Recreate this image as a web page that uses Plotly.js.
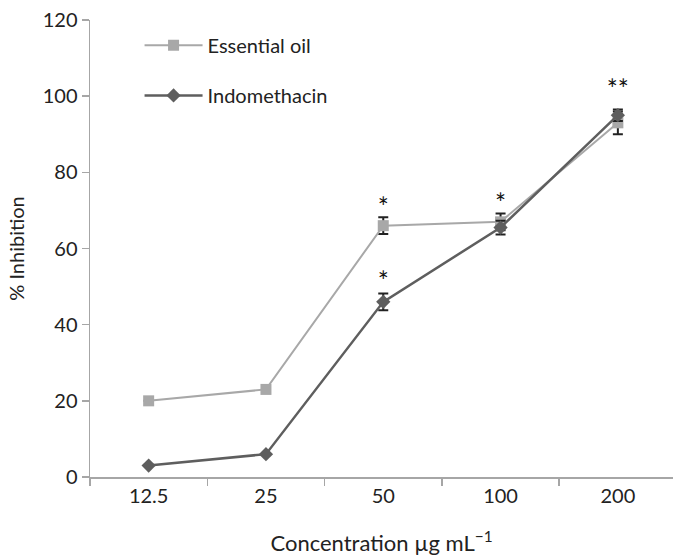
<!DOCTYPE html>
<html><head><meta charset="utf-8">
<script src="https://cdn.plot.ly/plotly-3.0.1.min.js"></script>
<style>html,body{margin:0;padding:0;background:#fff}#chart{width:673px;height:560px}</style>
</head><body><div id="chart"></div>
<script>
const categories = ["12.5", "25", "50", "100", "200"];
const oilValues = [20, 23, 66, 67, 93];
const oilErrors = [0, 0, 2.2, 2.2, 3];
const indoValues = [3, 6, 46, 65.5, 95];
const indoErrors = [0, 0, 2.2, 1.8, 1.5];
const starCats = ["50", "50", "100", "200"];
const starY = [70, 50.5, 71, 101];
const starText = ["*", "*", "*", "**"];

const font = "Lato, 'Open Sans', sans-serif";
const data = [
  {x: categories, y: oilValues, name: "Essential oil", type: "scatter", mode: "lines+markers",
   line: {color: "#a8a8a8", width: 2}, marker: {symbol: "square", size: 11, color: "#a8a8a8"},
   error_y: {type: "data", array: oilErrors, color: "#222", thickness: 2, width: 5}, legend: "legend"},
  {x: categories, y: indoValues, name: "Indomethacin", type: "scatter", mode: "lines+markers",
   line: {color: "#5e5e5e", width: 2.5}, marker: {symbol: "diamond", size: 11, color: "#5e5e5e"},
   error_y: {type: "data", array: indoErrors, color: "#222", thickness: 2, width: 5}, legend: "legend2"},
  {x: starCats, y: starY, text: starText, type: "scatter", mode: "text", showlegend: false,
   textfont: {family: font, size: 26, color: "#111"}, hoverinfo: "skip"}
];
const layout = {
  width: 673, height: 560,
  margin: {l: 90, r: 0, t: 20, b: 83},
  paper_bgcolor: "#fff", plot_bgcolor: "#fff",
  font: {family: font, size: 20, color: "#222"},
  xaxis: {type: "category", range: [-0.5, 4.47], showgrid: false, showline: true, linecolor: "#a6a6a6", linewidth: 1.5,
          ticks: "outside", tickson: "boundaries", ticklen: 7, tickcolor: "#a6a6a6", tickwidth: 1.5,
          tickfont: {size: 20, family: font}, zeroline: false,
          title: {text: "Concentration µg mL<sup>−1</sup>", font: {size: 22, family: font}, standoff: 30}},
  yaxis: {range: [0, 120], dtick: 20, showgrid: false, showline: true, linecolor: "#a6a6a6", linewidth: 1.5,
          ticks: "outside", ticklen: 7, tickcolor: "#a6a6a6", tickwidth: 1.5, zeroline: false,
          tickfont: {size: 20, family: font},
          title: {text: "% Inhibition", font: {size: 20, family: font}, standoff: 12}},
  legend: {x: 0.085, y: 0.945, xanchor: "left", yanchor: "middle", itemwidth: 58, bgcolor: "rgba(0,0,0,0)", font: {size: 20, family: font}},
  legend2: {x: 0.085, y: 0.835, xanchor: "left", yanchor: "middle", itemwidth: 58, bgcolor: "rgba(0,0,0,0)", font: {size: 20, family: font}},
  showlegend: true
};
Plotly.newPlot("chart", data, layout, {displayModeBar: false, staticPlot: true});
</script></body></html>
